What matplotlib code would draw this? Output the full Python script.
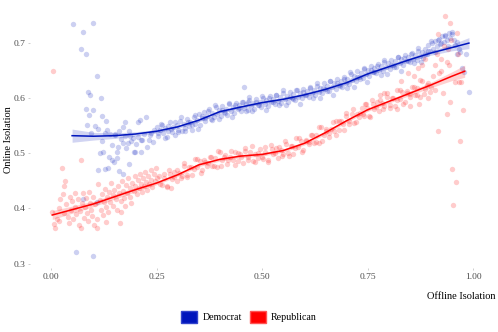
import matplotlib.pyplot as plt
from matplotlib.patches import Patch

plt.rcParams['font.family'] = ['Liberation Serif', 'DejaVu Serif']

dem_color = '#0015BC'
rep_color = '#FF0000'

# Democrat scatter (offline isolation, online isolation)
dem_x = [0.052, 0.100, 0.075, 0.072, 0.082, 0.110, 0.088, 0.092, 0.118, 0.082, 0.099, 0.090,
         0.122, 0.130, 0.086, 0.105, 0.112, 0.095, 0.128, 0.140, 0.160, 0.170, 0.152, 0.175,
         0.185, 0.195, 0.210, 0.225, 0.205, 0.215, 0.245, 0.235, 0.060, 0.100, 0.077, 0.108,
         0.115, 0.124, 0.137, 0.145, 0.149, 0.157, 0.156, 0.159, 0.171, 0.178, 0.196, 0.200,
         0.214, 0.112, 0.129, 0.136, 0.160, 0.171, 0.185, 0.202, 0.214, 0.151, 0.183, 0.207,
         0.175, 0.237, 0.241, 0.228, 0.190, 0.165, 0.145, 0.120, 0.133, 0.220, 0.232, 0.188,
         0.250, 0.254, 0.258, 0.262, 0.266, 0.270, 0.274, 0.278, 0.282, 0.286, 0.290, 0.294,
         0.298, 0.302, 0.306, 0.310, 0.314, 0.318, 0.322, 0.326, 0.330, 0.334, 0.338, 0.342,
         0.346, 0.350, 0.354, 0.358, 0.362, 0.366, 0.370, 0.374, 0.378, 0.382, 0.386, 0.390,
         0.394, 0.398, 0.402, 0.406, 0.410, 0.414, 0.418, 0.422, 0.426, 0.430, 0.434, 0.438,
         0.442, 0.446, 0.450, 0.454, 0.458, 0.462, 0.466, 0.470, 0.474, 0.478, 0.482, 0.486,
         0.490, 0.494, 0.498, 0.502, 0.506, 0.510, 0.514, 0.518, 0.522, 0.526, 0.530, 0.534,
         0.538, 0.542, 0.546, 0.550, 0.554, 0.558, 0.562, 0.566, 0.570, 0.574, 0.578, 0.582,
         0.586, 0.590, 0.594, 0.598, 0.602, 0.606, 0.610, 0.614, 0.618, 0.622, 0.626, 0.630,
         0.634, 0.638, 0.642, 0.646, 0.650, 0.654, 0.658, 0.662, 0.666, 0.670, 0.674, 0.678,
         0.682, 0.686, 0.690, 0.694, 0.698, 0.702, 0.706, 0.710, 0.714, 0.718, 0.722, 0.726,
         0.730, 0.734, 0.738, 0.742, 0.746, 0.750, 0.754, 0.758, 0.762, 0.766, 0.770, 0.774,
         0.778, 0.782, 0.786, 0.790, 0.794, 0.798, 0.802, 0.806, 0.810, 0.814, 0.818, 0.822,
         0.826, 0.830, 0.834, 0.838, 0.842, 0.846, 0.850, 0.854, 0.858, 0.862, 0.866, 0.870,
         0.874, 0.878, 0.882, 0.886, 0.890, 0.894, 0.898, 0.902, 0.906, 0.910, 0.914, 0.918,
         0.922, 0.926, 0.930, 0.934, 0.938, 0.942, 0.946, 0.950, 0.954, 0.958, 0.962, 0.966,
         0.970, 0.974, 0.978, 0.984, 0.990, 0.962, 0.457, 0.466,
         0.253, 0.261, 0.269, 0.277, 0.285, 0.293, 0.301, 0.309, 0.317, 0.325, 0.333, 0.341,
         0.349, 0.357, 0.365, 0.373, 0.381, 0.389, 0.397, 0.405, 0.413, 0.421, 0.429, 0.437,
         0.445, 0.453, 0.461, 0.469, 0.477, 0.485, 0.493, 0.501, 0.509, 0.517, 0.525, 0.533,
         0.541, 0.549, 0.557, 0.565, 0.573, 0.581, 0.589, 0.597, 0.605, 0.613, 0.621, 0.629,
         0.637, 0.645, 0.653, 0.661, 0.669, 0.677, 0.685, 0.693, 0.701, 0.709, 0.717, 0.725,
         0.733, 0.741, 0.749, 0.757, 0.765, 0.773, 0.781, 0.789, 0.797, 0.805, 0.813, 0.821,
         0.829, 0.837, 0.845, 0.853, 0.861, 0.869, 0.877, 0.885, 0.893, 0.901, 0.909, 0.917,
         0.925, 0.933, 0.941, 0.949]
dem_y = [0.735, 0.737, 0.720, 0.690, 0.680, 0.640, 0.612, 0.605, 0.600, 0.580, 0.578, 0.570,
         0.567, 0.558, 0.551, 0.550, 0.544, 0.537, 0.537, 0.535, 0.540, 0.548, 0.535, 0.532,
         0.540, 0.528, 0.560, 0.566, 0.530, 0.524, 0.542, 0.533, 0.321, 0.314, 0.417, 0.412,
         0.501, 0.503, 0.494, 0.488, 0.485, 0.491, 0.503, 0.511, 0.518, 0.509, 0.503, 0.503,
         0.503, 0.470, 0.472, 0.474, 0.468, 0.463, 0.481, 0.517, 0.525, 0.533, 0.518, 0.557,
         0.557, 0.537, 0.520, 0.512, 0.522, 0.526, 0.515, 0.523, 0.543, 0.535, 0.525, 0.531,
         0.548, 0.531, 0.543, 0.552, 0.536, 0.546, 0.529, 0.541, 0.556, 0.538, 0.547, 0.534,
         0.551, 0.543, 0.559, 0.540, 0.553, 0.546, 0.562, 0.549, 0.556, 0.543, 0.566, 0.553,
         0.560, 0.571, 0.552, 0.564, 0.575, 0.559, 0.568, 0.580, 0.562, 0.573, 0.566, 0.584,
         0.571, 0.579, 0.567, 0.586, 0.575, 0.581, 0.570, 0.590, 0.577, 0.584, 0.574, 0.592,
         0.580, 0.588, 0.576, 0.594, 0.583, 0.590, 0.579, 0.597, 0.585, 0.592, 0.581, 0.599,
         0.588, 0.594, 0.584, 0.601, 0.590, 0.597, 0.586, 0.604, 0.593, 0.599, 0.589, 0.606,
         0.595, 0.602, 0.591, 0.609, 0.598, 0.604, 0.594, 0.611, 0.600, 0.607, 0.597, 0.614,
         0.603, 0.610, 0.600, 0.617, 0.606, 0.613, 0.603, 0.620, 0.609, 0.615, 0.606, 0.623,
         0.612, 0.619, 0.609, 0.627, 0.616, 0.623, 0.613, 0.631, 0.620, 0.627, 0.617, 0.635,
         0.624, 0.631, 0.621, 0.639, 0.628, 0.635, 0.626, 0.644, 0.633, 0.641, 0.631, 0.650,
         0.639, 0.646, 0.637, 0.655, 0.644, 0.651, 0.641, 0.659, 0.648, 0.655, 0.645, 0.662,
         0.652, 0.659, 0.649, 0.666, 0.656, 0.663, 0.653, 0.670, 0.660, 0.667, 0.657, 0.674,
         0.664, 0.671, 0.661, 0.678, 0.668, 0.675, 0.665, 0.682, 0.672, 0.679, 0.669, 0.686,
         0.676, 0.683, 0.673, 0.690, 0.680, 0.697, 0.686, 0.700, 0.690, 0.704, 0.694, 0.708,
         0.698, 0.712, 0.702, 0.715, 0.705, 0.719, 0.709, 0.716, 0.706, 0.697, 0.702, 0.690,
         0.684, 0.654, 0.648, 0.681, 0.612, 0.681, 0.621, 0.594,
         0.536, 0.554, 0.528, 0.550, 0.545, 0.556, 0.539, 0.566, 0.540, 0.557, 0.552, 0.570,
         0.545, 0.568, 0.564, 0.576, 0.561, 0.588, 0.563, 0.579, 0.574, 0.591, 0.566, 0.588,
         0.582, 0.593, 0.577, 0.603, 0.576, 0.593, 0.587, 0.604, 0.578, 0.600, 0.594, 0.605,
         0.588, 0.614, 0.587, 0.603, 0.598, 0.615, 0.589, 0.612, 0.606, 0.618, 0.601, 0.628,
         0.601, 0.618, 0.613, 0.631, 0.606, 0.628, 0.623, 0.635, 0.619, 0.647, 0.621, 0.639,
         0.635, 0.653, 0.629, 0.652, 0.647, 0.659, 0.643, 0.670, 0.644, 0.661, 0.656, 0.675,
         0.650, 0.673, 0.668, 0.680, 0.664, 0.691, 0.665, 0.681, 0.686, 0.704, 0.684, 0.705,
         0.700, 0.712, 0.695, 0.720]

# Republican scatter
rep_x = [0.004, 0.002, 0.006, 0.010, 0.014, 0.018, 0.020, 0.022, 0.025, 0.028, 0.030, 0.032,
         0.034, 0.036, 0.040, 0.042, 0.045, 0.048, 0.050, 0.053, 0.056, 0.058, 0.060, 0.063,
         0.066, 0.068, 0.070, 0.072, 0.074, 0.076, 0.078, 0.080, 0.083, 0.085, 0.088, 0.090,
         0.093, 0.095, 0.098, 0.100, 0.102, 0.105, 0.108, 0.110, 0.112, 0.115, 0.118, 0.120,
         0.123, 0.125, 0.128, 0.130, 0.133, 0.136, 0.138, 0.140, 0.143, 0.146, 0.148, 0.150,
         0.153, 0.156, 0.158, 0.160, 0.163, 0.165, 0.168, 0.170, 0.173, 0.176, 0.178, 0.180,
         0.183, 0.186, 0.188, 0.190, 0.193, 0.196, 0.198, 0.200, 0.203, 0.206, 0.208, 0.210,
         0.213, 0.216, 0.218, 0.220, 0.223, 0.226, 0.228, 0.230, 0.233, 0.236, 0.238, 0.240,
         0.243, 0.246, 0.248, 0.250, 0.165, 0.130, 0.285,
         0.256, 0.262, 0.268, 0.274, 0.280, 0.286, 0.292, 0.298, 0.304, 0.310, 0.316, 0.322,
         0.328, 0.334, 0.340, 0.346, 0.352, 0.358, 0.364, 0.370, 0.376, 0.382, 0.388, 0.394,
         0.400, 0.406, 0.412, 0.418, 0.424, 0.430, 0.436, 0.442, 0.448, 0.454, 0.460, 0.466,
         0.472, 0.478, 0.484, 0.490, 0.496, 0.502, 0.508, 0.514, 0.520, 0.526, 0.532, 0.538,
         0.544, 0.550, 0.556, 0.562, 0.568, 0.574, 0.580, 0.586, 0.592, 0.598, 0.604, 0.610,
         0.616, 0.622, 0.628, 0.634, 0.640, 0.646, 0.652, 0.658, 0.664, 0.670, 0.676, 0.682,
         0.688, 0.694, 0.700, 0.706, 0.712, 0.718, 0.724, 0.730, 0.736, 0.742, 0.748, 0.754,
         0.760, 0.766, 0.772, 0.778, 0.784, 0.790, 0.796, 0.802, 0.808, 0.814, 0.820, 0.826,
         0.832, 0.838, 0.844, 0.850, 0.856, 0.862, 0.868, 0.874, 0.880, 0.886, 0.892, 0.898,
         0.830, 0.845, 0.860, 0.870, 0.880, 0.885, 0.872, 0.892, 0.850, 0.820, 0.790, 0.780,
         0.745, 0.905, 0.910, 0.915, 0.920, 0.925, 0.930, 0.940, 0.942, 0.948, 0.956, 0.965,
         0.972, 0.938, 0.910, 0.925, 0.933, 0.946, 0.962, 0.917, 0.945, 0.939, 0.977, 0.917,
         0.969, 0.928, 0.967, 0.951, 0.959, 0.952,
         0.259, 0.267, 0.275, 0.283, 0.291, 0.299, 0.307, 0.315, 0.323, 0.331, 0.339, 0.347,
         0.355, 0.363, 0.371, 0.379, 0.387, 0.395, 0.403, 0.411, 0.419, 0.427, 0.435, 0.443,
         0.451, 0.459, 0.467, 0.475, 0.483, 0.491, 0.499, 0.507, 0.515, 0.523, 0.531, 0.539,
         0.547, 0.555, 0.563, 0.571, 0.579, 0.587, 0.595, 0.603, 0.611, 0.619, 0.627, 0.635,
         0.643, 0.651, 0.659, 0.667, 0.675, 0.683, 0.691, 0.699, 0.707, 0.715, 0.723, 0.731,
         0.739, 0.747, 0.755, 0.763, 0.771, 0.779, 0.787, 0.795, 0.803, 0.811, 0.819, 0.827,
         0.835, 0.843, 0.851, 0.859, 0.867, 0.875, 0.883, 0.891, 0.899]
rep_y = [0.650, 0.394, 0.372, 0.364, 0.381, 0.378, 0.400, 0.417, 0.473, 0.426, 0.392, 0.440,
         0.449, 0.408, 0.385, 0.373, 0.420, 0.398, 0.413, 0.380, 0.428, 0.402, 0.389, 0.417,
         0.370, 0.395, 0.487, 0.364, 0.410, 0.428, 0.383, 0.402, 0.418, 0.392, 0.377, 0.430,
         0.410, 0.397, 0.386, 0.421, 0.369, 0.408, 0.381, 0.364, 0.444, 0.415, 0.397, 0.426,
         0.388, 0.411, 0.436, 0.402, 0.420, 0.393, 0.430, 0.412, 0.447, 0.425, 0.405, 0.434,
         0.417, 0.398, 0.441, 0.428, 0.373, 0.414, 0.450, 0.432, 0.419, 0.404, 0.442, 0.428,
         0.455, 0.437, 0.421, 0.409, 0.446, 0.432, 0.459, 0.440, 0.426, 0.451, 0.437, 0.463,
         0.444, 0.430, 0.456, 0.441, 0.466, 0.448, 0.434, 0.459, 0.445, 0.470, 0.452, 0.438,
         0.462, 0.449, 0.473, 0.455, 0.393, 0.375, 0.437,
         0.458, 0.442, 0.455, 0.440, 0.469, 0.454, 0.466, 0.449, 0.464, 0.459, 0.477, 0.461,
         0.475, 0.460, 0.489, 0.475, 0.486, 0.470, 0.484, 0.477, 0.494, 0.477, 0.491, 0.475,
         0.503, 0.487, 0.497, 0.480, 0.494, 0.487, 0.503, 0.486, 0.499, 0.482, 0.510, 0.493,
         0.503, 0.486, 0.499, 0.491, 0.508, 0.490, 0.503, 0.487, 0.515, 0.499, 0.510, 0.492,
         0.506, 0.499, 0.517, 0.500, 0.514, 0.498, 0.527, 0.511, 0.523, 0.506, 0.522, 0.516,
         0.534, 0.519, 0.533, 0.518, 0.548, 0.533, 0.545, 0.530, 0.545, 0.540, 0.558, 0.543,
         0.558, 0.543, 0.573, 0.558, 0.571, 0.555, 0.571, 0.565, 0.583, 0.568, 0.582, 0.567,
         0.596, 0.581, 0.593, 0.576, 0.591, 0.585, 0.603, 0.587, 0.600, 0.585, 0.614, 0.599,
         0.611, 0.594, 0.609, 0.603, 0.621, 0.605, 0.618, 0.603, 0.632, 0.617, 0.628, 0.612,
         0.632, 0.645, 0.640, 0.655, 0.660, 0.672, 0.590, 0.600, 0.585, 0.580, 0.610, 0.605,
         0.590, 0.640, 0.660, 0.680, 0.645, 0.672, 0.695, 0.690, 0.660, 0.705, 0.630, 0.680,
         0.630, 0.665, 0.615, 0.650, 0.749, 0.736, 0.718, 0.716, 0.594, 0.571, 0.579, 0.541,
         0.523, 0.609, 0.630, 0.472, 0.448, 0.407,
         0.445, 0.463, 0.439, 0.462, 0.457, 0.470, 0.455, 0.482, 0.457, 0.475, 0.471, 0.490,
         0.465, 0.488, 0.482, 0.494, 0.477, 0.504, 0.477, 0.493, 0.487, 0.504, 0.478, 0.500,
         0.494, 0.505, 0.487, 0.513, 0.485, 0.500, 0.494, 0.511, 0.485, 0.507, 0.501, 0.512,
         0.496, 0.522, 0.496, 0.514, 0.509, 0.527, 0.502, 0.525, 0.521, 0.534, 0.520, 0.548,
         0.523, 0.541, 0.537, 0.557, 0.533, 0.558, 0.554, 0.568, 0.553, 0.581, 0.556, 0.574,
         0.571, 0.590, 0.566, 0.589, 0.584, 0.597, 0.581, 0.609, 0.583, 0.600, 0.596, 0.614,
         0.590, 0.613, 0.608, 0.621, 0.605, 0.633, 0.607, 0.624, 0.620]

# Smoothed fits
dem_fit_x = [0.05, 0.10, 0.15, 0.20, 0.25, 0.30, 0.35, 0.40, 0.45, 0.50, 0.55, 0.60,
             0.65, 0.70, 0.75, 0.80, 0.85, 0.90, 0.95, 0.99]
dem_fit_y = [0.532, 0.531, 0.532, 0.535, 0.540, 0.548, 0.560, 0.5756, 0.584, 0.592, 0.598, 0.606,
             0.616, 0.628, 0.644, 0.657, 0.670, 0.682, 0.692, 0.700]
dem_fit_se = [0.012, 0.007, 0.005, 0.004, 0.003, 0.003, 0.003, 0.003, 0.003, 0.003, 0.003, 0.003,
              0.003, 0.003, 0.003, 0.003, 0.003, 0.004, 0.006, 0.010]

rep_fit_x = [0.003, 0.10, 0.20, 0.25, 0.30, 0.35, 0.40, 0.45, 0.50, 0.55, 0.60, 0.65,
             0.70, 0.75, 0.80, 0.85, 0.90, 0.95, 0.98]
rep_fit_y = [0.388, 0.408, 0.434, 0.446, 0.461, 0.479, 0.489, 0.495, 0.498, 0.505, 0.518, 0.5375,
             0.559, 0.579, 0.594, 0.609, 0.624, 0.640, 0.649]
rep_fit_se = [0.008, 0.005, 0.004, 0.003, 0.003, 0.003, 0.003, 0.003, 0.003, 0.003, 0.003, 0.003,
              0.003, 0.003, 0.003, 0.004, 0.005, 0.008, 0.011]

fig = plt.figure(figsize=(4.98, 3.32), dpi=100)
ax = fig.add_axes([0.060, 0.193, 0.924, 0.795])

ax.scatter(dem_x, dem_y, s=15, color=dem_color, alpha=0.2, linewidths=0)
ax.scatter(rep_x, rep_y, s=15, color=rep_color, alpha=0.2, linewidths=0)

for fx, fy, se, c in [(dem_fit_x, dem_fit_y, dem_fit_se, dem_color),
                      (rep_fit_x, rep_fit_y, rep_fit_se, rep_color)]:
    lo = [y - s for y, s in zip(fy, se)]
    hi = [y + s for y, s in zip(fy, se)]
    ax.fill_between(fx, lo, hi, color=c, alpha=0.18, linewidth=0)
    ax.plot(fx, fy, color=c, linewidth=1.1)

ax.set_xlim(-0.05, 1.04)
ax.set_ylim(0.292, 0.771)
ax.set_xticks([0.0, 0.25, 0.5, 0.75, 1.0])
ax.set_xticklabels(['0.00', '0.25', '0.50', '0.75', '1.00'])
ax.set_yticks([0.3, 0.4, 0.5, 0.6, 0.7])
ax.set_yticklabels(['0.3', '0.4', '0.5', '0.6', '0.7'])
ax.tick_params(labelsize=6.8, labelcolor='#4D4D4D', color='#BBBBBB', length=1.5, width=0.5, pad=2)
for sp in ax.spines.values():
    sp.set_visible(False)

fig.text(0.018, 0.578, 'Online Isolation', fontsize=7.5, rotation=90, ha='center', va='center')
fig.text(0.994, 0.108, 'Offline Isolation', fontsize=7.5, ha='right', va='center')

handles = [Patch(facecolor=dem_color, edgecolor='#3344CC', label='Democrat'),
           Patch(facecolor=rep_color, edgecolor='#FF5555', label='Republican')]
fig.legend(handles=handles, loc='center', bbox_to_anchor=(0.5, 0.045), ncol=2, frameon=False,
           fontsize=7.2, handlelength=1.6, handleheight=1.6, handletextpad=0.5, columnspacing=0.8)

fig.savefig('out.png', dpi=100)
